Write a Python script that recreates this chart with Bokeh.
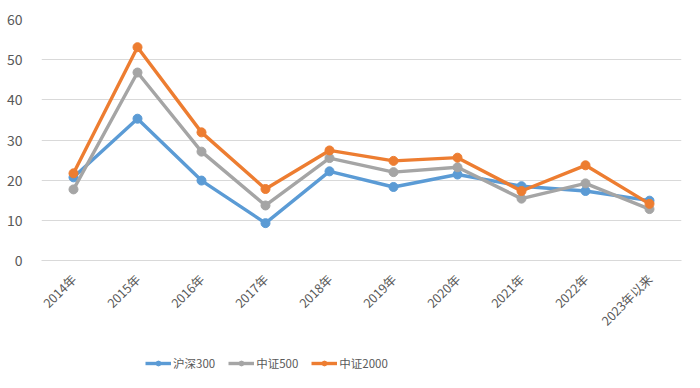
import math
from bokeh.plotting import figure
from bokeh.layouts import column
from bokeh.models import Legend, LegendItem, FixedTicker, ColumnDataSource
from bokeh.embed import file_html
from bokeh.resources import INLINE

categories = ["2014年", "2015年", "2016年", "2017年", "2018年", "2019年", "2020年", "2021年", "2022年", "2023年以来"]
hs300 = [20.7, 35.3, 19.9, 9.3, 22.2, 18.3, 21.4, 18.5, 17.3, 14.9]
zz500 = [17.7, 46.8, 27.1, 13.7, 25.5, 22.0, 23.2, 15.4, 19.2, 12.8]
zz2000 = [21.7, 53.1, 31.9, 17.8, 27.4, 24.8, 25.6, 17.3, 23.7, 14.1]
series_names = ["沪深300", "中证500", "中证2000"]
colors = ["#5B9BD5", "#A5A5A5", "#ED7D31"]
y_ticks = [0, 10, 20, 30, 40, 50, 60]

FONT = "Noto Sans CJK SC"
TXT = "#595959"

p = figure(width=684, height=340, x_range=categories, y_range=(0, 60),
           output_backend="svg", toolbar_location=None,
           min_border_left=41, min_border_right=3, min_border_top=19, min_border_bottom=80)
p.x_range.range_padding = 0
p.outline_line_color = None
p.border_fill_color = "white"

sources = []
for name, vals, c in zip(series_names, [hs300, zz500, zz2000], colors):
    src = ColumnDataSource(dict(x=categories, y=vals))
    sources.append(src)
    p.line("x", "y", source=src, line_color=c, line_width=3.4)
    p.scatter("x", "y", source=src, size=9, fill_color=c, line_color=c)

p.yaxis.ticker = FixedTicker(ticks=y_ticks)
p.yaxis.axis_line_color = None
p.yaxis.major_tick_line_color = None
p.yaxis.minor_tick_line_color = None
p.yaxis.major_label_text_color = TXT
p.yaxis.major_label_text_font = FONT
p.yaxis.major_label_text_font_size = "14px"
p.yaxis.major_label_standoff = 13

p.xaxis.axis_line_color = "#d9d9d9"
p.xaxis.major_tick_line_color = None
p.xaxis.minor_tick_line_color = None
p.xaxis.major_label_orientation = math.pi / 4
p.xaxis.major_label_text_color = TXT
p.xaxis.major_label_text_font = FONT
p.xaxis.major_label_text_font_size = "12.5px"
p.xaxis.major_label_standoff = 10

p.xgrid.grid_line_color = None
p.ygrid.grid_line_color = "#d9d9d9"
p.ygrid.grid_line_width = 1

# legend strip: same series drawn off-screen, only the legend is visible
lg = figure(width=684, height=32, x_range=categories, y_range=(1000, 1001),
            output_backend="svg", toolbar_location=None, min_border=0)
lg.axis.visible = False
lg.grid.visible = False
lg.outline_line_color = None
lg.border_fill_color = "white"
items = []
for name, src, c in zip(series_names, sources, colors):
    l = lg.line("x", "y", source=src, line_color=c, line_width=3.4)
    s = lg.scatter("x", "y", source=src, size=10, fill_color=c, line_color=c)
    items.append(LegendItem(label=name, renderers=[l, s]))

legend = Legend(items=items, orientation="horizontal", location=(104, 1),
                label_text_font=FONT, label_text_font_size="11.5px", label_text_color=TXT,
                glyph_width=26, glyph_height=12, spacing=13, label_standoff=2,
                border_line_color=None, background_fill_alpha=0, margin=0, padding=0)
lg.add_layout(legend, "center")

layout = column(p, lg, spacing=0)
open("out.html", "w").write(file_html(layout, INLINE))
